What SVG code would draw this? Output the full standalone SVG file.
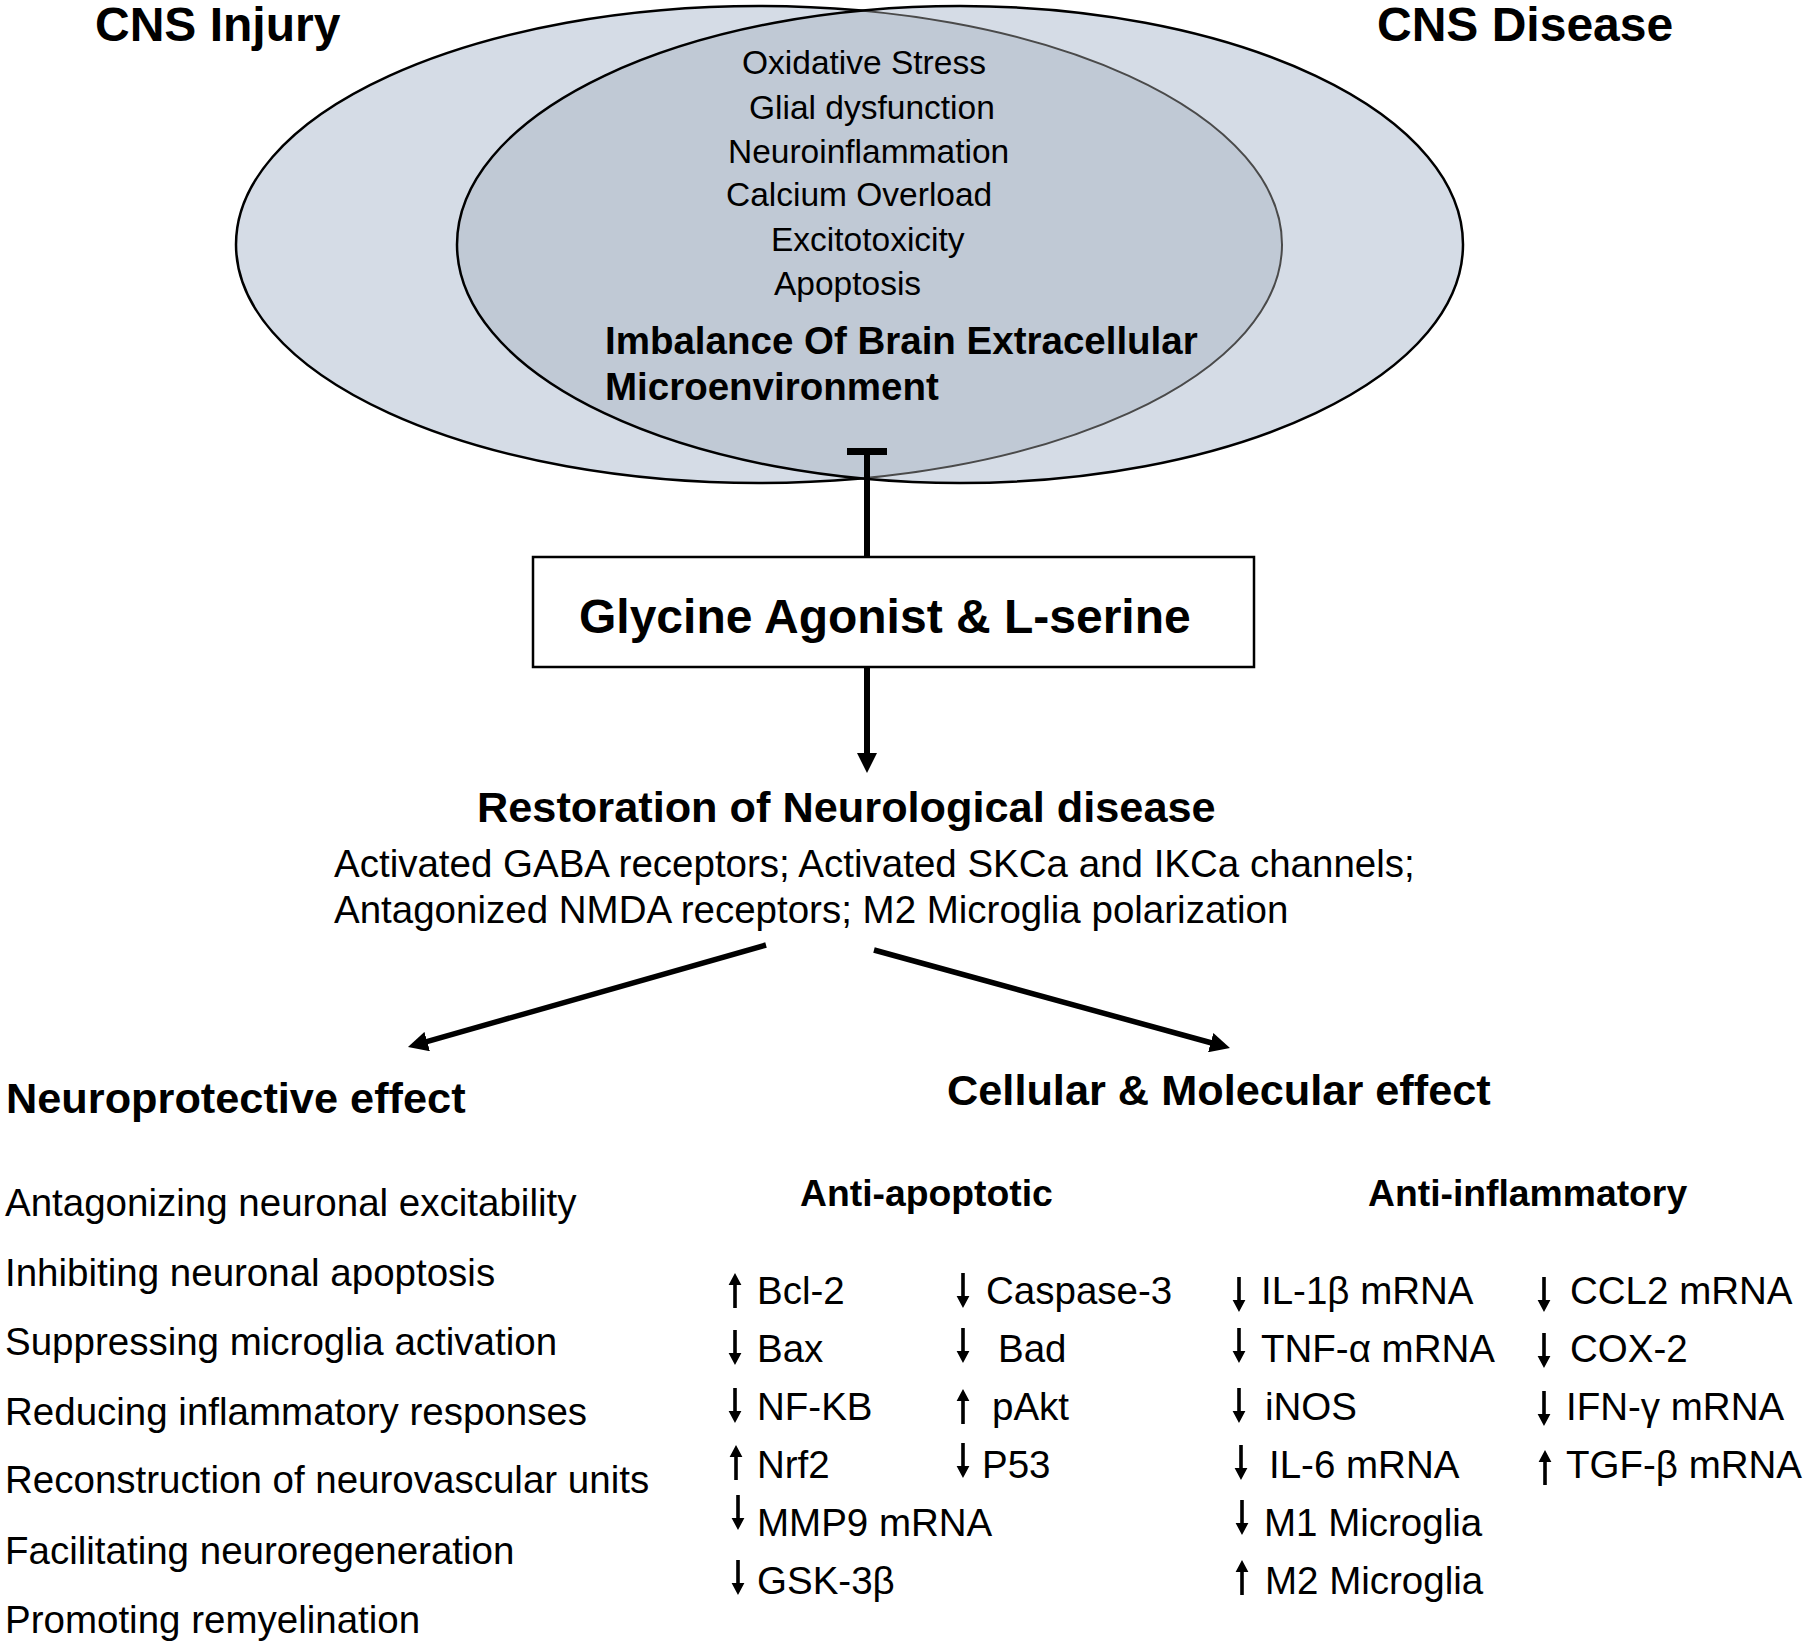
<svg xmlns="http://www.w3.org/2000/svg" xmlns:xlink="http://www.w3.org/1999/xlink" width="1807" height="1646" viewBox="0 0 1807 1646">
<style>
  text { font-family: "Liberation Sans", Arial, Helvetica, sans-serif; fill: #000; }
  .title { font-size: 48px; font-weight: bold; }
  .ell { font-size: 33.5px; }
  .ellb { font-size: 38.5px; font-weight: bold; }
  .box { font-size: 48px; font-weight: bold; }
  .h2 { font-size: 43.3px; font-weight: bold; }
  .h3 { font-size: 37.3px; font-weight: bold; }
  .body { font-size: 38.5px; }
  .conn { stroke: #000; fill: none; }
  .ar { fill: #000; }
</style>
<defs>
  <ellipse id="eL" cx="759" cy="244.5" rx="523" ry="238.5"/>
  <ellipse id="eR" cx="960" cy="244.5" rx="503" ry="238.5"/>
  <clipPath id="clipR"><use xlink:href="#eR"/></clipPath>
  <marker id="head" viewBox="0 0 20 20" refX="5" refY="10" markerWidth="20" markerHeight="20" markerUnits="userSpaceOnUse" orient="auto">
    <path d="M0,0 L20,10 L0,20 z" fill="#000"/>
  </marker>
  <path id="dn" d="M-1.8,0 h3.6 v23 h4.6 l-6.4,12 l-6.4,-12 h4.6 z"/>
  <path id="up" d="M-1.8,35 h3.6 v-23 h4.6 l-6.4,-12 l-6.4,12 h4.6 z"/>
</defs>
<rect width="1807" height="1646" fill="#fff"/>

<g id="venn">
  <use xlink:href="#eL" fill="#d5dce6" stroke="#000" stroke-width="2.5"/>
  <use xlink:href="#eR" fill="#d5dce6" stroke="none"/>
  <use xlink:href="#eL" clip-path="url(#clipR)" fill="#c0c9d5" stroke="#4a4a4a" stroke-width="2"/>
  <use xlink:href="#eR" fill="none" stroke="#000" stroke-width="2.5"/>
</g>

<g id="cns-injury"><text class="title" x="95" y="41">CNS Injury</text></g>
<g id="cns-disease"><text class="title" x="1377" y="41">CNS Disease</text></g>

<g id="imbalance">
  <text class="ell" x="742" y="74">Oxidative Stress</text>
  <text class="ell" x="749" y="119">Glial dysfunction</text>
  <text class="ell" x="728" y="163">Neuroinflammation</text>
  <text class="ell" x="726" y="206">Calcium Overload</text>
  <text class="ell" x="771" y="251">Excitotoxicity</text>
  <text class="ell" x="774" y="295">Apoptosis</text>
  <text class="ellb" x="605" y="354">Imbalance Of Brain Extracellular</text>
  <text class="ellb" x="605" y="400">Microenvironment</text>
</g>

<g id="glycine">
  <rect x="533" y="557" width="721" height="110" fill="#fff" stroke="#000" stroke-width="2.5"/>
  <text class="box" x="579" y="633">Glycine Agonist &amp; L-serine</text>
</g>

<g id="restoration">
  <text class="h2" x="477" y="822">Restoration of Neurological disease</text>
  <text class="body" x="334" y="877">Activated GABA receptors; Activated SKCa and IKCa channels;</text>
  <text class="body" x="334" y="923">Antagonized NMDA receptors; M2 Microglia polarization</text>
</g>

<g id="neuroprotective">
  <text class="h2" x="6" y="1113">Neuroprotective effect</text>
  <text class="body" x="5" y="1216">Antagonizing neuronal excitability</text>
  <text class="body" x="5" y="1286">Inhibiting neuronal apoptosis</text>
  <text class="body" x="5" y="1355">Suppressing microglia activation</text>
  <text class="body" x="5" y="1425">Reducing inflammatory responses</text>
  <text class="body" x="5" y="1493">Reconstruction of neurovascular units</text>
  <text class="body" x="5" y="1564">Facilitating neuroregeneration</text>
  <text class="body" x="5" y="1633">Promoting remyelination</text>
</g>

<g id="cellular-molecular">
  <text class="h2" x="947" y="1105">Cellular &amp; Molecular effect</text>
</g>

<g id="anti-apoptotic">
  <text class="h3" x="800" y="1206">Anti-apoptotic</text>
  <g class="ar">
    <use xlink:href="#up" x="735" y="1273"/>
    <use xlink:href="#dn" x="735" y="1330"/>
    <use xlink:href="#dn" x="735" y="1388"/>
    <use xlink:href="#up" x="736" y="1445"/>
    <use xlink:href="#dn" x="738" y="1495"/>
    <use xlink:href="#dn" x="738" y="1560"/>
    <use xlink:href="#dn" x="963" y="1273"/>
    <use xlink:href="#dn" x="963" y="1328"/>
    <use xlink:href="#up" x="963" y="1389"/>
    <use xlink:href="#dn" x="963" y="1443"/>
  </g>
  <text class="body" x="757" y="1304">Bcl-2</text>
  <text class="body" x="757" y="1362">Bax</text>
  <text class="body" x="757" y="1420">NF-KB</text>
  <text class="body" x="757" y="1478">Nrf2</text>
  <text class="body" x="757" y="1536">MMP9 mRNA</text>
  <text class="body" x="757" y="1594">GSK-3β</text>
  <text class="body" x="986" y="1304">Caspase-3</text>
  <text class="body" x="998" y="1362">Bad</text>
  <text class="body" x="992" y="1420">pAkt</text>
  <text class="body" x="982" y="1478">P53</text>
</g>

<g id="anti-inflammatory">
  <text class="h3" x="1368" y="1206">Anti-inflammatory</text>
  <g class="ar">
    <use xlink:href="#dn" x="1239" y="1277"/>
    <use xlink:href="#dn" x="1239" y="1328"/>
    <use xlink:href="#dn" x="1239" y="1388"/>
    <use xlink:href="#dn" x="1241" y="1445"/>
    <use xlink:href="#dn" x="1242" y="1500"/>
    <use xlink:href="#up" x="1242" y="1560"/>
    <use xlink:href="#dn" x="1544" y="1277"/>
    <use xlink:href="#dn" x="1544" y="1333"/>
    <use xlink:href="#dn" x="1544" y="1391"/>
    <use xlink:href="#up" x="1545" y="1450"/>
  </g>
  <text class="body" x="1261" y="1304">IL-1β mRNA</text>
  <text class="body" x="1261" y="1362">TNF-α mRNA</text>
  <text class="body" x="1265" y="1420">iNOS</text>
  <text class="body" x="1269" y="1478">IL-6 mRNA</text>
  <text class="body" x="1264" y="1536">M1 Microglia</text>
  <text class="body" x="1265" y="1594">M2 Microglia</text>
  <text class="body" x="1570" y="1304">CCL2 mRNA</text>
  <text class="body" x="1570" y="1362">COX-2</text>
  <text class="body" x="1566" y="1420">IFN-γ mRNA</text>
  <text class="body" x="1566" y="1478">TGF-β mRNA</text>
</g>

<g id="connectors">
  <line class="conn" x1="867" y1="451" x2="867" y2="557" stroke-width="6"/>
  <line class="conn" x1="847" y1="451.5" x2="887" y2="451.5" stroke-width="7"/>
  <line class="conn" x1="867" y1="667" x2="867" y2="758" stroke-width="6" marker-end="url(#head)"/>
  <line class="conn" x1="766" y1="945" x2="422.4" y2="1042.9" stroke-width="5.5" marker-end="url(#head)"/>
  <line class="conn" x1="874" y1="950" x2="1215.5" y2="1044" stroke-width="5.5" marker-end="url(#head)"/>
</g>
</svg>
